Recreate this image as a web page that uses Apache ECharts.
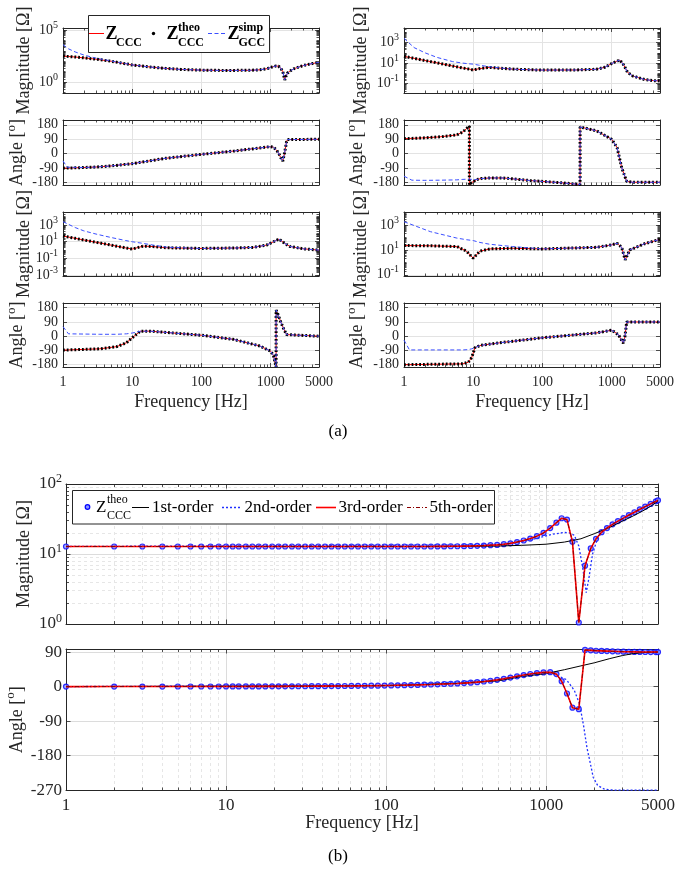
<!DOCTYPE html>
<html><head><meta charset="utf-8">
<script src="https://cdn.jsdelivr.net/npm/echarts@6/dist/echarts.min.js"></script>
<style>html,body{margin:0;padding:0;background:#fff}#c{width:676px;height:872px}</style>
</head><body><div id="c"></div><script>
// ---------- axis tick values ----------
const xMajorF = [1, 10, 100, 1000];
const xMinorF = [2,3,4,5,6,7,8,9,20,30,40,50,60,70,80,90,200,300,400,500,600,700,800,900,2000,3000,4000,5000];
const xLabelF = [1, 10, 100, 1000, 5000];
const angTicksA = [-180, -90, 0, 90, 180];
const magTicksA1 = [1, 1e5];
const magTicksA2 = [0.1, 10, 1000];
const magTicksA5 = [0.001, 0.1, 10, 1000];
const magTicksA6 = [0.1, 10, 1000];
const magTicksB = [1, 10, 100];
const angTicksB = [-270, -180, -90, 0, 90];

// ---------- (a) data: f [Hz], Z_CCC / Z_CCC^theo (z), Z_GCC^simp (s) ----------
const fA1 = [1,1.2,1.5,2,3,5,10,20,30,50,100,200,500,700,900,1050,1200,1300,1400,1500,1600,1650,1750,1900,2200,3000,4000,5000];
const zA1 = [316,288,257,214,158,100,44.7,26.3,20.9,16.6,14.1,13.2,13.5,15.1,20,28.2,35.5,33.1,22.4,10,1.6,3.2,7.1,11.5,20,39.8,60.3,79.4];
const sA1 = [3980,1580,794,398,200,107,44.7,26.3,20.9,16.6,14.1,13.2,13.5,15.1,20,28.2,35.5,33.1,22.4,10,1.6,3.2,7.1,11.5,20,39.8,60.3,79.4];

const fA2 = [1,1.4,2,3,5,7,9,10,12,17,25,40,100,300,600,800,1000,1150,1320,1500,1700,2000,3000,4000,5000];
const zA2 = [44.7,28.8,17.8,10.5,5.25,3.39,2.51,2.14,2.82,3.8,3.16,2.51,2.09,2.14,2.51,3.98,8.91,14.1,19.5,6.31,1.26,0.575,0.251,0.2,0.186];
const sA2 = [2510,316,100,35.5,14.1,10,8.32,7.94,6.31,4.47,3.31,2.51,2.09,2.14,2.51,3.98,8.91,14.1,19.5,6.31,1.26,0.575,0.251,0.2,0.186];

const fA3 = [1,1.15,2,3,5,10,30,100,300,1000,1100,1200,1300,1400,1500,1600,1700,1750,1800,5000];
const zA3 = [-90,-89.5,-86,-83,-76,-62,-29,-4,17,44,40,25,5,-25,-46,10,75,88,90,90];
const sA3 = [-45,-84,-86,-83,-76,-62,-29,-4,17,44,40,25,5,-25,-46,10,75,88,90,90];

const fA4 = [1,1.3,2,3.3,5.8,7.1,8.8,8.8,9.5,11.2,13,17.5,27,66,200,350,350,610,1000,1200,1400,1650,2000,5000];
const zA4 = [94,95.5,99,105,117,136,172,-195,-180,-161,-155,-151,-151,-167,-182,-192,167,142,90,38,-88,-172,-178,-178];
const sA4 = [-140,-165,-166,-165,-163,-160,-158,-158,-160,-161,-155,-151,-151,-167,-182,-192,167,142,90,38,-88,-172,-178,-178];

const fA5 = [1,1.5,2,3,5,8,10,12,14.5,20,31.6,95,300,560,875,1100,1320,1600,1900,3000,5000];
const zA5 = [47.9,25.7,16.2,8.71,3.89,1.86,1.32,2.0,3.02,2.63,1.91,1.58,1.78,2.09,3.98,10,20.9,6.31,2.75,1.41,1.0];
const sA5 = [2510,501,200,83.2,31.6,14.1,10,7.94,6.31,3.98,2.24,1.58,1.78,2.09,3.98,10,20.9,6.31,2.75,1.41,1.0];

const fA6 = [1,2.4,5.8,8,10,12.5,17.5,37,100,610,1000,1200,1400,1570,1830,3000,5000];
const zA6 = [22.4,21.4,18.6,7.94,2.14,7.94,12.0,13.5,12.0,16.2,25.1,33.9,15.8,1.58,10,31.6,70.8];
const sA6 = [1862,295,89.1,66.1,56.2,39.8,28.2,18.6,12.0,16.2,25.1,33.9,15.8,1.58,10,31.6,70.8];

const fA7 = [1,1.2,3.4,6,8.3,10,13,18,100,290,700,1000,1100,1200,1200,1300,1400,1550,1700,1800,5000];
const zA7 = [-88,-87,-80,-66,-41,-10,31,32,6,-20,-62,-95,-123,-195,165,130,90,45,10,2,0];
const sA7 = [60,15,12,12,15,20,31,32,6,-20,-62,-95,-123,-195,165,130,90,45,10,2,0];

const fA8 = [1,1.2,7.1,8.5,9.5,10.6,12.5,24,100,610,1000,1250,1480,1560,1650,5000];
const zA8 = [-180,-180,-175,-165,-136,-73,-59,-42,-10,21,38,10,-45,0,90,90];
const sA8 = [-25,-87,-87,-85,-80,-73,-59,-42,-10,21,38,10,-45,0,90,90];

// ---------- (b) data ----------
const fB = [1,2,3,4,5,6,7,8,9,10,
 11,12,13.3,14.6,16,17.6,19.4,21.3,23.4,25.8,28.3,31.2,34.3,37.7,41.5,45.6,50.2,55.2,60.7,66.8,73.5,80.8,88.9,97.8,
 107.6,118.3,130.2,143.2,157.5,173.3,190.6,209.7,230.6,253.7,279,307,338,371,408,449,494,544,598,658,724,796,876,963,
 1060,1160,1250,1350,1460,1600,1750,1900,2050,2220,2400,2600,2810,3040,3290,3560,3850,4160,4500,4850,5000];
const magTheoB = [12.8,12.8,12.8,12.8,12.8,12.8,12.8,12.8,12.8,12.8,
 12.8,12.8,12.8,12.8,12.8,12.8,12.8,12.8,12.8,12.8,12.8,12.8,12.8,12.8,12.8,12.8,12.8,12.8,12.8,12.8,12.8,12.8,12.8,12.8,
 12.8,12.8,12.8,12.8,12.8,12.8,12.8,12.85,12.85,12.9,12.9,12.95,13.0,13.1,13.2,13.35,13.5,13.8,14.2,14.8,15.6,16.6,18.0,20.0,
 23.5,28,32.4,31,15,1.05,6.8,12,16.5,20.5,23.5,26.5,29.5,32.5,36,39.5,43.5,47.5,52,56.5,58.5];
const angTheoB = [0,0.06,0.09,0.12,0.15,0.17,0.2,0.23,0.26,0.29,
 0.31,0.34,0.37,0.41,0.45,0.49,0.54,0.6,0.66,0.72,0.8,0.87,0.96,1.06,1.16,1.28,1.4,1.55,1.7,1.87,2.06,2.26,2.49,2.74,
 3.0,3.3,3.6,4.0,4.4,4.9,5.4,6.0,6.7,7.4,8.2,9.1,10.2,11.5,13.2,15.2,17.5,20.2,23.5,26.8,30,32.8,35.2,37,
 37.5,32.5,14,-18,-55,-59,95.5,94.5,93.5,93,92.5,92,91.5,91,90.7,90.5,90.3,90.2,90.1,90,90];
const f1B = [1,100,300,500,700,1000,1300,1650,2000,2500,3000,3500,4000,4500,5000];
const mag1B = [12.8,12.8,12.85,13.0,13.3,13.8,14.8,16.5,19.5,24,29.5,35,41,48,57];
const ang1B = [0,2.5,9,15,26,34,44,54,62,73,81,86,88.5,89.5,90];
const f2mB = [1,500,700,900,1100,1300,1400,1500,1600,1700,1780,1850,1950,2100,2300,2500,3000,4000,5000];
const mag2B = [12.8,13.5,14.9,17.0,19.2,20.3,20.0,18.5,13,6,2.8,4.5,10,17,22,25,31,45.5,58.5];
const f2aB = [1,100,500,700,900,1000,1160,1340,1500,1620,1720,1800,1875,1970,2100,2300,2500,2700,3000,5000];
const ang2B = [0,2.7,17.5,26.8,34,35.5,30,18,-10,-46,-106,-160,-194,-237,-258,-267,-269.5,-270,-270,-270];

// ---------- helpers ----------
const FONT = '"Liberation Serif","Times New Roman",serif';
const INK = '#262626';
const L10 = Math.log10;
const xMin = 0, xMax = L10(5000);
const opt = {animation:false, backgroundColor:'#fff', textStyle:{fontFamily:FONT},
  grid:[], xAxis:[], yAxis:[], series:[], graphic:[]};

function minorLog(lo, hi, majors) {
  const out = [];
  for (let e = Math.floor(lo) - 1; e <= Math.ceil(hi); e++)
    for (let k = 1; k <= 9; k++) {
      const v = e + L10(k);
      if (v >= lo && v <= hi && !majors.some(m => Math.abs(m - v) < 1e-9)) out.push(v);
    }
  return out;
}
const magFmt = v => { const e = Math.round(v); return '{b|10}{s|' + (e < 0 ? '-' : '') + Math.abs(e) + '}'; };

function panel(box, c) {
  const gi = opt.grid.length;
  opt.grid.push({left:box[0], top:box[1], width:box[2], height:box[3], show:false,
    containLabel:false, outerBoundsMode:'none'});
  const xi = opt.xAxis.length, yi = opt.yAxis.length;
  const mk = (pos, mn, mx, line, ticks, len, split, lab, name) => Object.assign({
    gridIndex:gi, type:'value', min:mn, max:mx, position:pos,
    axisLine:{show:line, onZero:false, lineStyle:{color:INK, width:1}},
    axisTick: ticks ? {show:true, inside:true, length:len, customValues:ticks, lineStyle:{color:INK, width:0.8}} : {show:false},
    splitLine: split || {show:false},
    axisLabel: lab || {show:false},
    axisPointer:{show:false}
  }, name || {});
  const gMaj = {show:true, lineStyle:{color:c.gridColor, width:1}};
  const gMin = {show:true, lineStyle:{color:c.minorColor, width:1, type:[3,3]}};
  const xMaj = xMajorF.map(L10), xMinV = xMinorF.map(L10);
  const xLab = c.xLabels ? {show:true, customValues:xLabelF.map(L10),
      formatter: v => String(Math.round(Math.pow(10, v))), fontFamily:FONT, fontSize:c.fs, color:INK, margin:c.xLabMargin} : null;
  const xName = c.xLabels ? {name:'Frequency [Hz]', nameLocation:'middle', nameGap:c.xNameGap, nameMoveOverlap:false,
      nameTextStyle:{fontFamily:FONT, fontSize:c.nameFs, color:INK}} : null;
  opt.xAxis.push(mk('bottom',xMin,xMax,true,xMaj,c.tl,gMaj,xLab,xName));
  opt.xAxis.push(mk('bottom',xMin,xMax,false,xMinV,c.tlm,c.minorGrid?gMin:null));
  opt.xAxis.push(mk('top',xMin,xMax,true,xMaj,c.tl));
  opt.xAxis.push(mk('top',xMin,xMax,false,xMinV,c.tlm));
  // y labels split over two axes (alternating) so neighbouring labels never compete for space
  const labStyle = vals => ({show:true, customValues:vals, formatter:c.yFmt, fontFamily:FONT, fontSize:c.fs, color:INK, margin:c.yLabMargin,
     rich:{b:{fontFamily:FONT, fontSize:c.fs, color:INK}, s:{fontFamily:FONT, fontSize:Math.round(c.fs*0.7), color:INK, padding:[0,0,c.supPad,0]}}});
  const evenL = c.yMajor.filter((v, i) => i % 2 === 0), oddL = c.yMajor.filter((v, i) => i % 2 === 1);
  const yName = {name:c.yName, nameLocation:'middle', nameRotate:90, nameGap:c.yNameGap, nameMoveOverlap:false,
     nameTextStyle:{fontFamily:FONT, fontSize:c.nameFs, color:INK,
       rich:{s:{fontFamily:FONT, fontSize:Math.round(c.nameFs*0.7), color:INK, padding:[0,0,c.supPad+2,0]}}}};
  opt.yAxis.push(mk('left',c.ymin,c.ymax,true,c.yMajor,c.tl,gMaj,labStyle(evenL),yName));
  if (oddL.length) opt.yAxis.push(mk('left',c.ymin,c.ymax,false,null,0,null,labStyle(oddL)));
  if (c.yMinor) opt.yAxis.push(mk('left',c.ymin,c.ymax,false,c.yMinor,c.tlm,c.yMinorGrid?gMin:null));
  opt.yAxis.push(mk('right',c.ymin,c.ymax,true,c.yMajor,c.tl));
  if (c.yMinor) opt.yAxis.push(mk('right',c.ymin,c.ymax,false,c.yMinor,c.tlm));
  return {xi, yi};
}

// ---------- (a) panels ----------
const baseA = {fs:14, nameFs:18, tl:4, tlm:2.5, gridColor:'#e3e3e3', minorColor:'#eeeeee', minorGrid:false,
  xLabMargin:8, xNameGap:26, yLabMargin:5, supPad:10};
const colL = [63, 256], colR = [404, 256];
const rows = [[28,65],[120,65],[212,64],[303,64]];
function magCfg(lo, hi, ticks, col) {
  const maj = ticks.map(L10);
  return Object.assign({}, baseA, {ymin:lo, ymax:hi, yMajor:maj, yMinor:minorLog(lo,hi,maj), yFmt:magFmt,
    yName:'Magnitude [Ω]', yNameGap: col === 0 ? 30 : 34});
}
function angCfg(col, xl) {
  return Object.assign({}, baseA, {ymin:-195, ymax:210, yMajor:angTicksA, yMinor:null, yFmt:v => String(v),
    yName:'Angle [{s|o}]', yNameGap: col === 0 ? 33 : 34, xLabels:xl});
}
const pA = [
  panel([colL[0], rows[0][0], colL[1], rows[0][1]], magCfg(-1.05, 5.2, magTicksA1, 0)),
  panel([colR[0], rows[0][0], colR[1], rows[0][1]], magCfg(-1.9, 4.4, magTicksA2, 1)),
  panel([colL[0], rows[1][0], colL[1], rows[1][1]], angCfg(0, false)),
  panel([colR[0], rows[1][0], colR[1], rows[1][1]], angCfg(1, false)),
  panel([colL[0], rows[2][0], colL[1], rows[2][1]], magCfg(-3.1, 4.56, magTicksA5, 0)),
  panel([colR[0], rows[2][0], colR[1], rows[2][1]], magCfg(-1.1, 4.05, magTicksA6, 1)),
  panel([colL[0], rows[3][0], colL[1], rows[3][1]], angCfg(0, true)),
  panel([colR[0], rows[3][0], colR[1], rows[3][1]], angCfg(1, true))
];
function addA(p, f, z, s, isMag) {
  const ty = v => isMag ? L10(v) : v;
  const zd = f.map((x, i) => [L10(x), ty(z[i])]);
  const sd = f.map((x, i) => [L10(x), ty(s[i])]);
  const common = {type:'line', xAxisIndex:p.xi, yAxisIndex:p.yi, symbol:'none', silent:true, clip:true};
  opt.series.push(Object.assign({}, common, {data:zd, lineStyle:{color:'#ff0000', width:1}, z:2}));
  opt.series.push(Object.assign({}, common, {data:zd, lineStyle:{color:'#000000', width:3, type:[1.8,2]}, z:3}));
  opt.series.push(Object.assign({}, common, {data:sd, lineStyle:{color:'#3b4fff', width:1, type:[4,2.5]}, z:4}));
}
addA(pA[0], fA1, zA1, sA1, true);
addA(pA[1], fA2, zA2, sA2, true);
addA(pA[2], fA3, zA3, sA3, false);
addA(pA[3], fA4, zA4, sA4, false);
addA(pA[4], fA5, zA5, sA5, true);
addA(pA[5], fA6, zA6, sA6, true);
addA(pA[6], fA7, zA7, sA7, false);
addA(pA[7], fA8, zA8, sA8, false);

// ---------- (b) panels ----------
const baseB = {fs:17, nameFs:18, tl:4.5, tlm:3, gridColor:'#dcdcdc', minorColor:'#e6e6e6', minorGrid:true,
  xLabMargin:7, xNameGap:24, yLabMargin:4, supPad:11};
const bMagMaj = magTicksB.map(L10);
const pB1 = panel([66, 484, 592, 140], Object.assign({}, baseB, {ymin:0, ymax:2, yMajor:bMagMaj, yNameGap:33,
  yMinor:minorLog(0, 2, bMagMaj), yMinorGrid:true, yFmt:magFmt, yName:'Magnitude [Ω]', xLabels:false}));
const pB2 = panel([66, 649, 592, 141.5], Object.assign({}, baseB, {ymin:-271, ymax:98, yMajor:angTicksB, yNameGap:36,
  yMinor:null, yFmt:v => String(v), yName:'Angle [{s|o}]', xLabels:true}));
function addB(p, isMag) {
  const ty = v => isMag ? L10(v) : v;
  const mkd = (f, v) => f.map((x, i) => [L10(x), ty(v[i])]);
  const common = {type:'line', xAxisIndex:p.xi, yAxisIndex:p.yi, symbol:'none', silent:true, clip:true};
  opt.series.push({type:'scatter', xAxisIndex:p.xi, yAxisIndex:p.yi, silent:true, z:2,
    data: mkd(fB, isMag ? magTheoB : angTheoB), symbol:'circle', symbolSize:5,
    itemStyle:{color:'#8a95ff', borderColor:'#0000ff', borderWidth:1.2}});
  opt.series.push(Object.assign({}, common, {data:mkd(f1B, isMag ? mag1B : ang1B), lineStyle:{color:'#000', width:1}, z:3}));
  opt.series.push(isMag ? Object.assign({}, common, {data:mkd(f2mB, mag2B), lineStyle:{color:'#2030ff', width:1.3, type:[2,2]}, z:4})
                        : Object.assign({}, common, {data:mkd(f2aB, ang2B), lineStyle:{color:'#2030ff', width:1.3, type:[2,2]}, z:4}));
  opt.series.push(Object.assign({}, common, {data:mkd(fB, isMag ? magTheoB : angTheoB), lineStyle:{color:'#ff0000', width:1.6}, z:5}));
  opt.series.push(Object.assign({}, common, {data:mkd(fB, isMag ? magTheoB : angTheoB), lineStyle:{color:'#8b0000', width:1, type:[4,2,1,2]}, z:6}));
}
addB(pB1, true);
addB(pB2, false);

// ---------- legends & captions ----------
const T = (x, y, text, font, align) => ({type:'text', x, y, z:102,
  style:{text, font, fill:'#000', textAlign:align || 'left', textVerticalAlign:'middle', align:align || 'left', verticalAlign:'middle'}});
const Ln = (x1, y1, x2, y2, color, w, dash) => ({type:'line', z:102, shape:{x1, y1, x2, y2},
  style:{stroke:color, lineWidth:w, lineDash:dash || null}});
const bF = s => 'bold ' + s + 'px "Liberation Serif"';
const rF = s => s + 'px "Liberation Serif"';
opt.graphic = [
  {type:'rect', z:100, shape:{x:88.5, y:15.5, width:181, height:37}, style:{fill:'#fff', stroke:INK, lineWidth:1}},
  Ln(89, 33.5, 104, 33.5, '#ff0000', 1),
  T(105.5, 34, 'Z', bF(18)), T(116, 42.5, 'CCC', bF(12)),
  {type:'circle', z:102, shape:{cx:153.5, cy:33.5, r:1.7}, style:{fill:'#000'}},
  T(166.5, 34, 'Z', bF(18)), T(178, 27.5, 'theo', bF(12)), T(178, 43, 'CCC', bF(12)),
  Ln(208, 33.5, 227, 33.5, '#3b4fff', 1, [4, 2.5]),
  T(227.5, 34, 'Z', bF(18)), T(238.5, 27.5, 'simp', bF(12)), T(238.5, 43, 'GCC', bF(12)),
  T(338, 432, '(a)', rF(17), 'center'),

  {type:'rect', z:100, shape:{x:72.5, y:490.5, width:422, height:33.5}, style:{fill:'#fff', stroke:INK, lineWidth:1}},
  {type:'circle', z:102, shape:{cx:87.5, cy:507, r:2.3}, style:{fill:'#8a95ff', stroke:'#0000ff', lineWidth:1.2}},
  T(96, 507.5, 'Z', rF(17)), T(107, 500, 'theo', rF(12)), T(107, 516, 'CCC', rF(12)),
  Ln(132, 507.5, 149, 507.5, '#000', 1), T(152, 507.5, '1st-order', rF(17)),
  Ln(222, 507.5, 242, 507.5, '#2030ff', 1.3, [2, 2]), T(244.5, 507.5, '2nd-order', rF(17)),
  Ln(316, 507.5, 336, 507.5, '#ff0000', 1.6), T(338.5, 507.5, '3rd-order', rF(17)),
  Ln(407, 507.5, 427, 507.5, '#8b0000', 1, [4, 2, 1, 2]), T(429.5, 507.5, '5th-order', rF(17)),
  T(338, 857, '(b)', rF(17), 'center')
];

const chart = echarts.init(document.getElementById('c'), null, {renderer:'canvas'});
chart.setOption(opt);
</script></body></html>
